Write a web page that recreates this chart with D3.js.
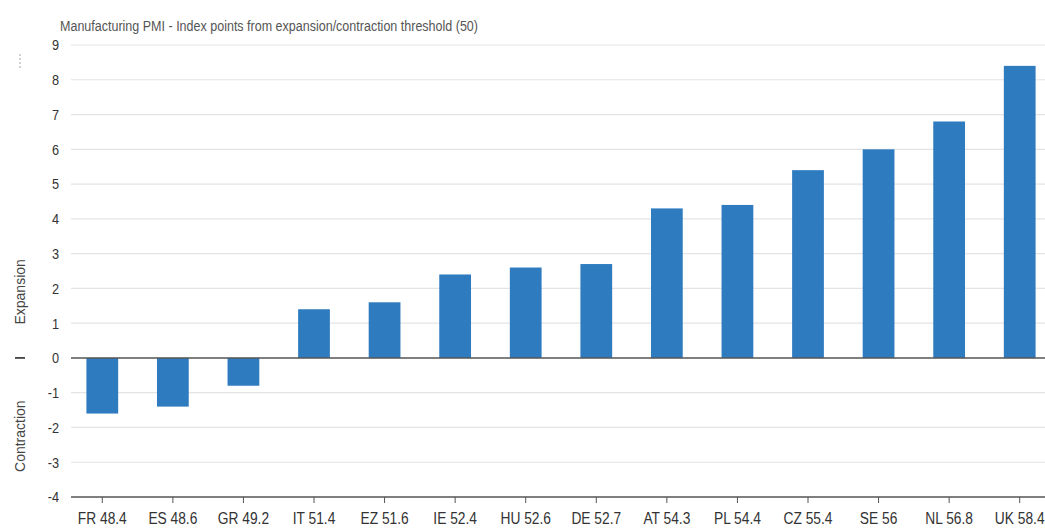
<!DOCTYPE html>
<html>
<head>
<meta charset="utf-8">
<script src="https://cdn.jsdelivr.net/npm/d3@7/dist/d3.min.js"></script>
<style>
  html, body { margin: 0; padding: 0; background: #fff; }
  svg { display: block; }
  text { font-family: "Liberation Sans Narrow", "Arial Narrow", "Liberation Sans", sans-serif; }
</style>
</head>
<body>
<svg id="chart" width="1045" height="531"></svg>
<script>
// Country codes and their manufacturing PMI readings
const countries = ["FR", "ES", "GR", "IT", "EZ", "IE", "HU", "DE", "AT", "PL", "CZ", "SE", "NL", "UK"];
const pmi = [48.4, 48.6, 49.2, 51.4, 51.6, 52.4, 52.6, 52.7, 54.3, 54.4, 55.4, 56, 56.8, 58.4];
const threshold = 50;
const yTicks = [-4, -3, -2, -1, 0, 1, 2, 3, 4, 5, 6, 7, 8, 9];

const rows = countries.map((c, i) => ({
  code: c,
  pmi: pmi[i],
  label: c + " " + pmi[i],
  diff: +(pmi[i] - threshold).toFixed(1)
}));

const svg = d3.select("#chart");
const W = 1045;
const plotLeft = 71;

// squeeze text horizontally to a condensed look
function condense(sel, k) {
  sel.each(function () {
    const len = this.getComputedTextLength();
    d3.select(this).attr("textLength", len * k).attr("lengthAdjust", "spacingAndGlyphs");
  });
}

const x = d3.scaleBand()
  .domain(rows.map(d => d.label))
  .range([67, 1055])
  .paddingInner(0.55)
  .paddingOuter(0.275);

const y = d3.scaleLinear()
  .domain([-4, 9])
  .range([497, 45]);

// Horizontal gridlines
svg.append("g")
  .selectAll("line")
  .data(yTicks.filter(t => t !== 0 && t !== -4))
  .join("line")
  .attr("x1", plotLeft).attr("x2", W)
  .attr("y1", d => y(d)).attr("y2", d => y(d))
  .attr("stroke", "#e4e4e4")
  .attr("stroke-width", 1.2);

// Y tick labels
svg.append("g")
  .selectAll("text")
  .data(yTicks)
  .join("text")
  .attr("x", 59)
  .attr("y", d => y(d))
  .attr("dy", "0.36em")
  .attr("text-anchor", "end")
  .attr("font-size", 15)
  .attr("fill", "#333")
  .text(d => d)
  .call(condense, 0.85);

// Bars
svg.append("g")
  .selectAll("rect")
  .data(rows)
  .join("rect")
  .attr("x", d => x(d.label))
  .attr("width", x.bandwidth())
  .attr("y", d => y(Math.max(0, d.diff)))
  .attr("height", d => Math.abs(y(d.diff) - y(0)))
  .attr("fill", "#2f7bbf");

// Zero line
svg.append("line")
  .attr("x1", plotLeft).attr("x2", W)
  .attr("y1", y(0)).attr("y2", y(0))
  .attr("stroke", "#555").attr("stroke-width", 1.5);

// Bottom axis
const xAxis = svg.append("g")
  .attr("transform", `translate(0,${y(-4)})`)
  .call(d3.axisBottom(x).tickSize(6).tickSizeOuter(0));
xAxis.select(".domain").attr("stroke", "#555").attr("stroke-width", 1.5)
  .attr("d", `M${plotLeft},0H${W}`);
xAxis.selectAll(".tick line").attr("stroke", "#555");
xAxis.selectAll(".tick text")
  .attr("font-size", 16)
  .attr("fill", "#333")
  .attr("dy", "1.15em")
  .style("font-family", '"Liberation Sans Narrow", "Arial Narrow", "Liberation Sans", sans-serif')
  .call(condense, 0.86);

// Title
svg.append("text")
  .attr("x", 60).attr("y", 31)
  .attr("font-size", 14)
  .attr("fill", "#555")
  .text("Manufacturing PMI - Index points from expansion/contraction threshold (50)")
  .attr("textLength", 418)
  .attr("lengthAdjust", "spacingAndGlyphs");

// Side labels
svg.append("text")
  .attr("transform", `translate(25,${y(1.9)}) rotate(-90)`)
  .attr("text-anchor", "middle")
  .attr("font-size", 14)
  .attr("fill", "#444")
  .text("Expansion");
svg.append("text")
  .attr("transform", `translate(25,${y(-2.25)}) rotate(-90)`)
  .attr("text-anchor", "middle")
  .attr("font-size", 14)
  .attr("fill", "#444")
  .text("Contraction");
svg.append("line")
  .attr("x1", 15).attr("x2", 25)
  .attr("y1", y(0)).attr("y2", y(0))
  .attr("stroke", "#444").attr("stroke-width", 1.8);

// Menu dots
svg.append("g")
  .selectAll("circle")
  .data([0, 1, 2, 3])
  .join("circle")
  .attr("cx", 20)
  .attr("cy", d => 55 + d * 4)
  .attr("r", 0.9)
  .attr("fill", "#bbb");
</script>
</body>
</html>
